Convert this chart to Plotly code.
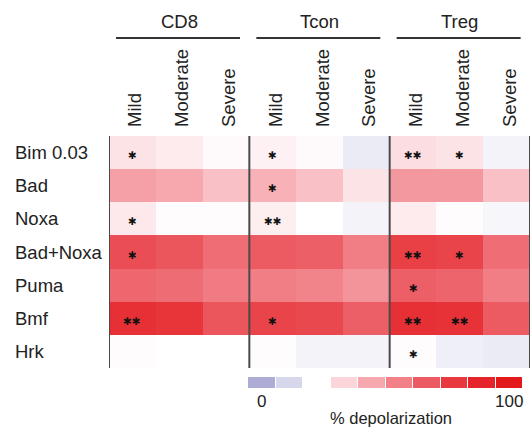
import plotly.graph_objects as go

# ---- data ----
groups = ["CD8", "Tcon", "Treg"]
conditions = ["Mild", "Moderate", "Severe"]
peptides = ["Bim 0.03", "Bad", "Noxa", "Bad+Noxa", "Puma", "Bmf", "Hrk"]

# % depolarization (columns: CD8 Mild/Mod/Sev, Tcon Mild/Mod/Sev, Treg Mild/Mod/Sev)
bim_003 = [10, 7, 2, 5, 2, -5, 12, 10, -3]
bad = [33, 30, 22, 27, 22, 10, 36, 36, 22]
noxa = [8, 1, 1, 6, 0, -3, 7, 1, -2]
bad_noxa = [66, 62, 52, 60, 58, 46, 72, 70, 52]
puma = [55, 53, 47, 46, 44, 38, 58, 56, 46]
bmf = [82, 78, 62, 70, 68, 58, 82, 80, 60]
hrk = [1, 0, 0, 1, -3, -3, 1, -4, -5]

# significance marks
stars_bim = ["*", "", "", "*", "", "", "**", "*", ""]
stars_bad = ["", "", "", "*", "", "", "", "", ""]
stars_noxa = ["*", "", "", "**", "", "", "", "", ""]
stars_bad_noxa = ["*", "", "", "", "", "", "**", "*", ""]
stars_puma = ["", "", "", "", "", "", "*", "", ""]
stars_bmf = ["**", "", "", "*", "", "", "**", "**", ""]
stars_hrk = ["", "", "", "", "", "", "*", "", ""]

# legend boxes (None = gap)
legend_values = [-20, -10, None, 15, 30, 45, 60, 75, 90, 100]
legend_tick_labels = ["0", "100"]
legend_title = "% depolarization"

z = [bim_003, bad, noxa, bad_noxa, puma, bmf, hrk]
stars = [stars_bim, stars_bad, stars_noxa, stars_bad_noxa, stars_puma, stars_bmf, stars_hrk]

zmin, zmax = -20, 100
def frac(v):
    return (v - zmin) / (zmax - zmin)
colorscale = [
    [frac(-20), "#acacd5"],
    [frac(-10), "#d7d7ec"],
    [frac(0), "#ffffff"],
    [frac(15), "#fbd5da"],
    [frac(30), "#f6a8ae"],
    [frac(45), "#f18088"],
    [frac(60), "#ec5a62"],
    [frac(75), "#e8393e"],
    [frac(90), "#e6252a"],
    [frac(100), "#e31a1c"],
]

ncol = len(groups) * len(conditions)
xs = list(range(ncol))
col_labels = [c for g in groups for c in conditions]

FONT = "Liberation Sans, Arial, sans-serif"
TXT = "#222222"

fig = go.Figure()
fig.add_trace(go.Heatmap(
    z=z, x=xs, y=list(range(len(peptides))),
    colorscale=colorscale, zmin=zmin, zmax=zmax,
    showscale=False, hoverinfo="skip",
))
fig.add_trace(go.Heatmap(
    z=[legend_values], x=list(range(len(legend_values))), y=[0],
    colorscale=colorscale, zmin=zmin, zmax=zmax, xgap=1,
    showscale=False, hoverinfo="skip", xaxis="x2", yaxis="y2",
))

# layout geometry (pixels)
W, H = 532, 429
L, R, T, B = 109, 2, 136, 37
pw, ph = W - L - R, H - T - B
def px(x):
    return (x - L) / pw
def py(y):
    return (H - B - y) / ph

fig.update_layout(
    width=W, height=H,
    margin=dict(l=L, r=R, t=T, b=B),
    paper_bgcolor="white", plot_bgcolor="white",
    font=dict(family=FONT, size=18.5, color=TXT),
    xaxis=dict(
        domain=[0, 1], range=[-0.5, ncol - 0.5], side="top",
        tickmode="array", tickvals=xs, ticktext=col_labels, tickangle=-90,
        ticks="", ticklabelstandoff=8, ticklabelshift=3,
        showgrid=False, zeroline=False, showline=False,
        tickfont=dict(family=FONT, size=18.5, color=TXT),
    ),
    yaxis=dict(
        domain=[py(368), 1], range=[len(peptides) - 0.5, -0.5],
        showticklabels=False, showgrid=False, zeroline=False, ticks="",
    ),
    xaxis2=dict(
        domain=[px(248), px(523)], range=[-0.5, len(legend_values) - 0.5],
        anchor="y2", visible=False,
    ),
    yaxis2=dict(
        domain=[py(388), py(377)], range=[-0.5, 0.5],
        anchor="x2", visible=False,
    ),
)

# row labels
for i, p in enumerate(peptides):
    fig.add_annotation(x=px(13), xref="paper", y=i, yref="y", text=p,
                       showarrow=False, xanchor="left", yanchor="middle",
                       font=dict(family=FONT, size=18.5, color=TXT))

# stars
for i, row in enumerate(stars):
    for j, s in enumerate(row):
        if s:
            fig.add_annotation(x=j, y=i, xref="x", yref="y",
                               text="\u2731" * len(s), showarrow=False,
                               xanchor="center", yanchor="middle", yshift=-2.5,
                               font=dict(family="DejaVu Sans", size=10.5, color="#111111"))

# group headers and lines, separators
for gi, g in enumerate(groups):
    start = gi * len(conditions)
    end = start + len(conditions) - 1
    fig.add_annotation(x=(start + end) / 2, xref="x", y=py(21), yref="paper",
                       text=g, showarrow=False, xanchor="center", yanchor="middle",
                       font=dict(family=FONT, size=18.5, color=TXT))
    fig.add_shape(type="line", xref="x", yref="paper",
                  x0=start - 0.5 + 0.15, x1=end + 0.5 - 0.2,
                  y0=py(38), y1=py(38),
                  line=dict(color="#333333", width=2))
for b in [-0.5 + k * len(conditions) for k in range(len(groups) + 1)]:
    fig.add_shape(type="line", xref="x", yref="y",
                  x0=b, x1=b, y0=-0.55, y1=len(peptides) - 0.5,
                  line=dict(color="#4a4a4a", width=2))

# legend text
fig.add_annotation(x=px(261), y=py(401), xref="paper", yref="paper",
                   text=legend_tick_labels[0], showarrow=False,
                   xanchor="center", yanchor="middle",
                   font=dict(family=FONT, size=17, color=TXT))
fig.add_annotation(x=px(509), y=py(401), xref="paper", yref="paper",
                   text=legend_tick_labels[1], showarrow=False,
                   xanchor="center", yanchor="middle",
                   font=dict(family=FONT, size=17, color=TXT))
fig.add_annotation(x=px(328), y=py(418), xref="paper", yref="paper",
                   text=legend_title, showarrow=False,
                   xanchor="left", yanchor="middle",
                   font=dict(family=FONT, size=16.5, color=TXT))

fig.write_html("out.html", post_script="document.body.style.margin='0';",
               config={"displayModeBar": False})
